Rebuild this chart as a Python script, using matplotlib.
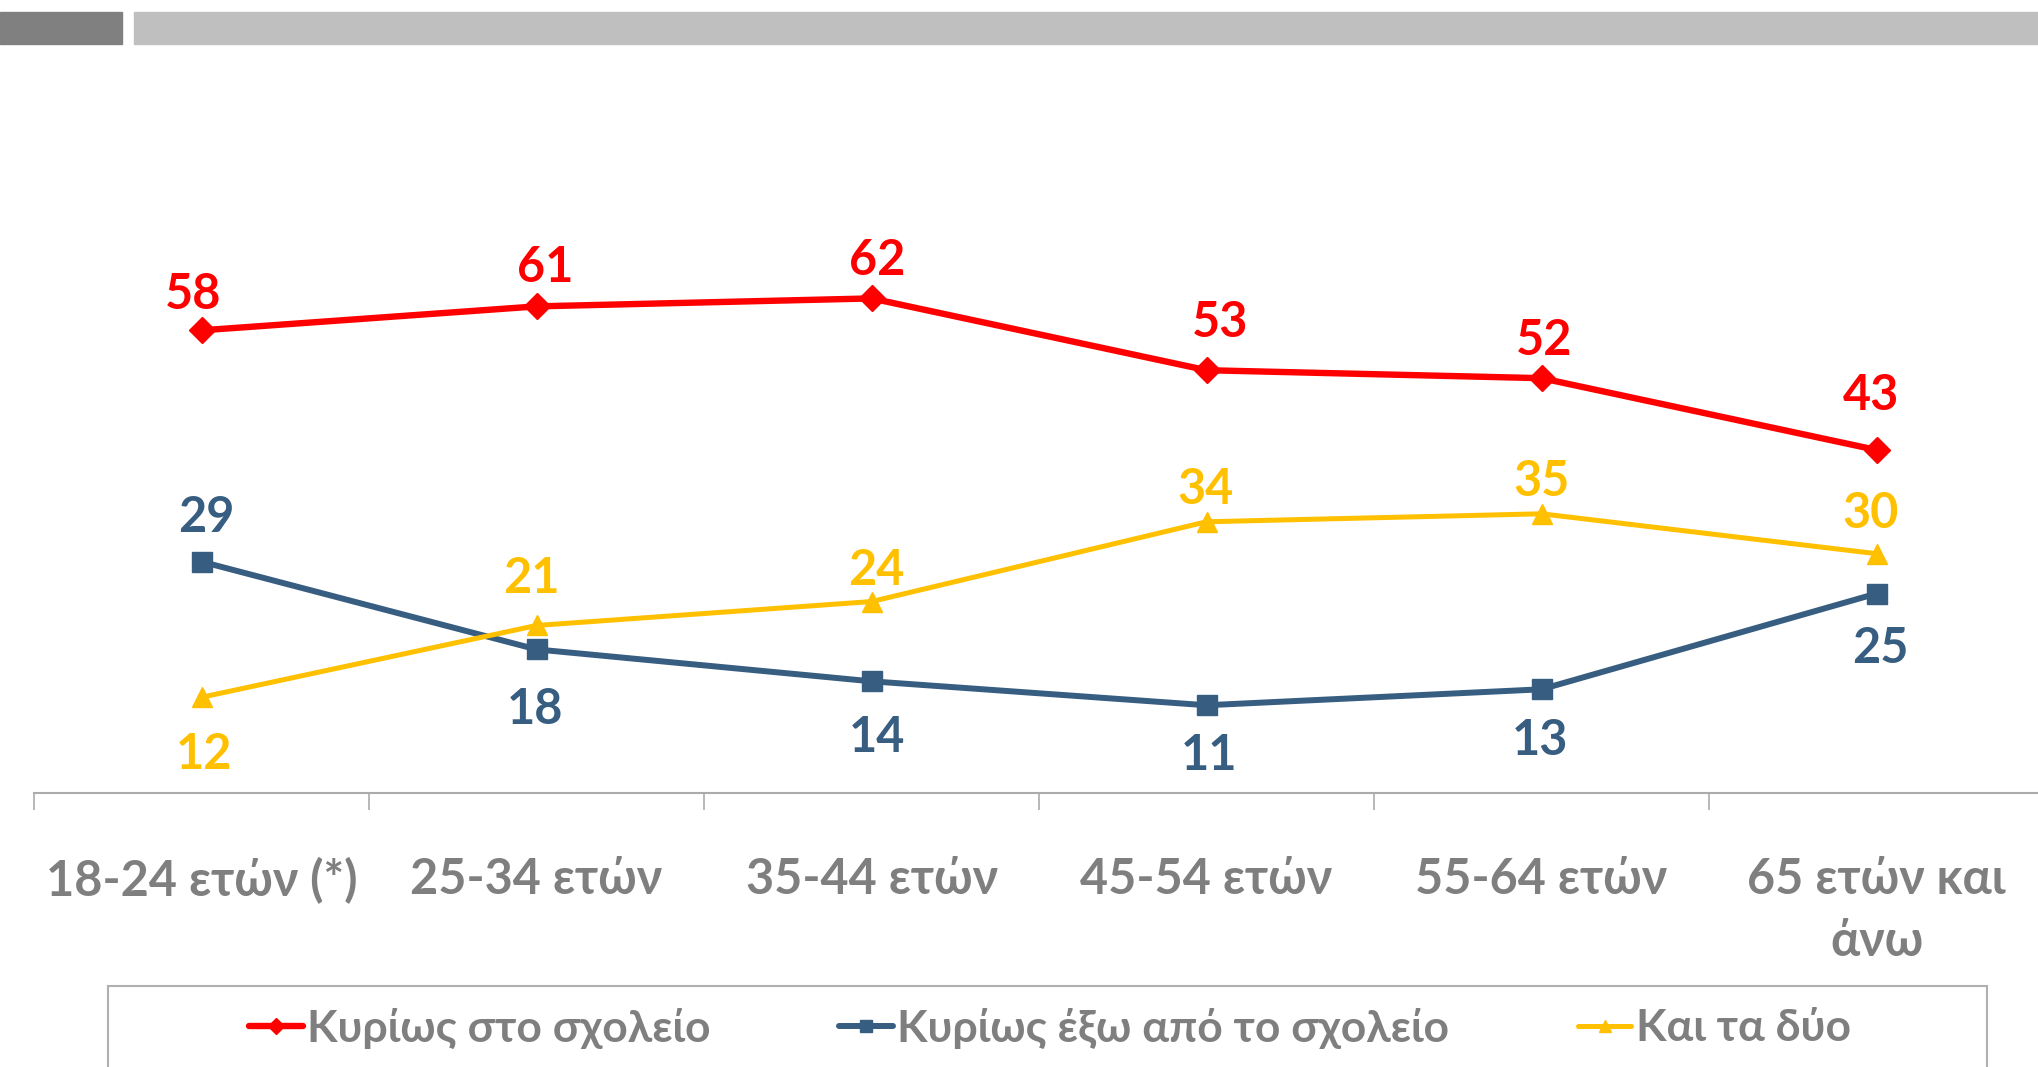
import matplotlib
matplotlib.use('Agg')
import matplotlib.pyplot as plt
from matplotlib.patches import Rectangle
from matplotlib.ticker import FixedLocator

plt.rcParams['font.family'] = ['Lato', 'Open Sans', 'DejaVu Sans']

categories = ['18-24 ετών (*)', '25-34 ετών', '35-44 ετών', '45-54 ετών',
              '55-64 ετών', '65 ετών και\nάνω']
school = [58, 61, 62, 53, 52, 43]
outside = [29, 18, 14, 11, 13, 25]
both = [12, 21, 24, 34, 35, 30]
series_names = ['Κυρίως στο σχολείο', 'Κυρίως έξω από το σχολείο', 'Και τα δύο']

# label offsets from the point, in pixels (dx, dy), placed by hand like the original
off_school = [(-8, 36), (9, 39), (6, 38), (14, 48), (3, 38), (-6, 54)]
off_outside = [(5, 44), (-1, -60), (5, -56), (3, -50), (-2, -51), (4, -55)]
off_both = [(3, -57), (-5, 47), (5, 31), (-1, 32), (0, 32), (-6, 40)]

RED = '#FF0000'
BLUE = '#375D81'
YELLOW = '#FFC000'
GRAY = '#7F7F7F'
AXIS = '#ABABAB'

W, H = 2038, 1067
fig = plt.figure(figsize=(W / 100, H / 100), dpi=100)

# header bars
fig.patches.append(Rectangle((0, 1 - 44 / H), 122 / W, 32 / H, transform=fig.transFigure,
                             color='#808080', zorder=0))
fig.patches.append(Rectangle((134 / W, 1 - 44 / H), 1 - 134 / W, 32 / H, transform=fig.transFigure,
                             color='#BFBFBF', zorder=0))

ax = fig.add_axes([34 / W, 1 - 793 / H, 2010 / W, 702 / H])
x = list(range(len(categories)))

styles = [
    (school, RED, 'D', 13, 4.6, off_school),
    (outside, BLUE, 's', 14, 4.3, off_outside),
    (both, YELLOW, '^', 15, 3.6, off_both),
]
for (vals, col, mk, ms, lw, offs), name in zip(styles, series_names):
    ax.plot(x, vals, color=col, marker=mk, markersize=ms, linewidth=lw,
            label=name, solid_capstyle='round', clip_on=False)
    for xi, v, (dx, dy) in zip(x, vals, offs):
        ax.annotate(str(v), (xi, v), xytext=(dx, dy), textcoords='offset pixels',
                    ha='center', va='center', color=col, fontsize=35, fontweight='bold')

ax.set_xlim(-0.5, 5.5)
ax.set_ylim(0, 88)
for s in ['top', 'right', 'left']:
    ax.spines[s].set_visible(False)
ax.spines['bottom'].set_color(AXIS)
ax.spines['bottom'].set_linewidth(1.5)
ax.set_yticks([])
ax.set_xticks(x)
ax.set_xticklabels(categories, fontsize=35, fontweight='bold', color=GRAY, linespacing=1.45)
ax.tick_params(axis='x', which='major', length=0, pad=46)
ax.xaxis.set_minor_locator(FixedLocator([i - 0.5 for i in range(len(categories) + 1)]))
ax.tick_params(axis='x', which='minor', length=12, width=1.2, color=AXIS, direction='out')

# legend
fig.patches.append(Rectangle((108 / W, -0.05), (1987 - 108) / W, 1 - 986 / H + 0.05,
                             transform=fig.transFigure, fill=False, edgecolor='#B0B0B0',
                             linewidth=1.5))
handles, labels = ax.get_legend_handles_labels()
leg = fig.legend(handles, labels, loc='center', bbox_to_anchor=(1050 / W, 1 - 1028 / H),
                 ncol=3, frameon=False, fontsize=32, handlelength=1.2, handletextpad=0.1,
                 columnspacing=2.9, markerscale=0.6)
for t in leg.get_texts():
    t.set_color(GRAY)
    t.set_fontweight('bold')

fig.savefig('out.png', dpi=100)
